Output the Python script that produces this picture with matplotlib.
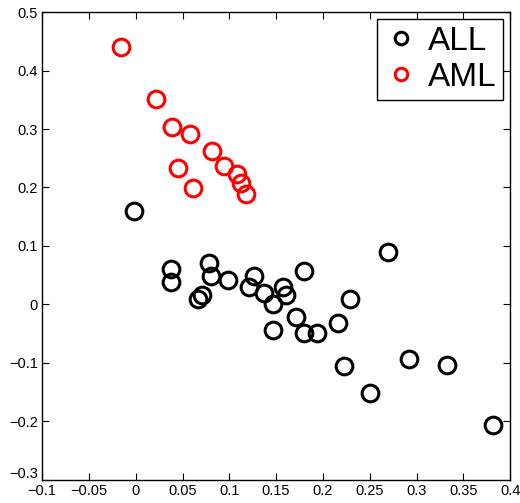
import matplotlib.pyplot as plt
import matplotlib.transforms as mtransforms

plt.rcParams['font.family'] = ['Liberation Sans', 'DejaVu Sans']

# ALL samples
all_x = [-0.002, 0.038, 0.038, 0.078, 0.080, 0.067, 0.071, 0.099, 0.126, 0.121,
         0.137, 0.147, 0.157, 0.161, 0.180, 0.171, 0.147, 0.180, 0.194, 0.216,
         0.229, 0.269, 0.222, 0.250, 0.292, 0.333, 0.382]
all_y = [0.160, 0.060, 0.038, 0.071, 0.048, 0.009, 0.016, 0.042, 0.048, 0.029,
         0.020, 0.001, 0.029, 0.017, 0.057, -0.022, -0.044, -0.049, -0.049, -0.032,
         0.010, 0.089, -0.105, -0.151, -0.094, -0.104, -0.207]

# AML samples
aml_x = [-0.016, 0.022, 0.039, 0.058, 0.045, 0.061, 0.081, 0.094, 0.108, 0.112, 0.118]
aml_y = [0.440, 0.352, 0.303, 0.291, 0.233, 0.199, 0.262, 0.236, 0.223, 0.208, 0.189]

fig = plt.figure(figsize=(5.2, 5.03), dpi=100)
ax = fig.add_axes([0.081, 0.046, 0.900, 0.930])

ax.plot(all_x, all_y, 'o', mfc='none', mec='black', ms=12, mew=2.2, label='ALL')
ax.plot(aml_x, aml_y, 'o', mfc='none', mec='red', ms=12, mew=2.2, label='AML')

ax.set_xlim(-0.1, 0.4)
ax.set_ylim(-0.3, 0.5)
ax.set_xticks([-0.1, -0.05, 0, 0.05, 0.1, 0.15, 0.2, 0.25, 0.3, 0.35, 0.4])
ax.set_xticklabels(['\u22120.1', '\u22120.05', '0', '0.05', '0.1', '0.15', '0.2',
                    '0.25', '0.3', '0.35', '0.4'])
ax.set_yticks([-0.3, -0.2, -0.1, 0, 0.1, 0.2, 0.3, 0.4, 0.5])
ax.set_yticklabels(['\u22120.3', '\u22120.2', '\u22120.1', '0', '0.1', '0.2',
                    '0.3', '0.4', '0.5'])
ax.tick_params(direction='in', top=True, right=True, length=5, width=0.8,
               labelsize=10.5, pad=3)
for s in ax.spines.values():
    s.set_linewidth(1.0)

# lift the bottom y label a little so it clears the x labels
lbl = ax.get_yticklabels()[0]
lbl.set_transform(lbl.get_transform() +
                  mtransforms.ScaledTranslation(0, 5 / 72, fig.dpi_scale_trans))

leg = ax.legend(loc='upper right', fontsize=24, frameon=True, fancybox=False,
                edgecolor='black', framealpha=1, handletextpad=0.3,
                borderpad=0.22, labelspacing=0.15, markerscale=0.75,
                handlelength=1.0, borderaxespad=0.2)
leg.get_frame().set_linewidth(1.0)

plt.savefig('out.png', dpi=100)
